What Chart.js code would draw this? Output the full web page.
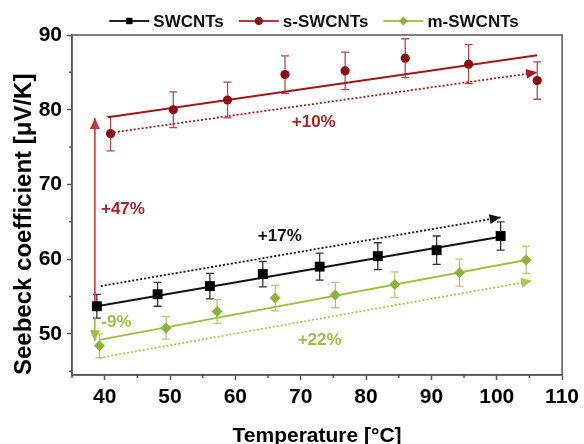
<!DOCTYPE html>
<html>
<head>
<meta charset="utf-8">
<script src="https://cdn.jsdelivr.net/npm/chart.js@4.4.0/dist/chart.umd.min.js"></script>
<style>
  body { margin: 0; background: #fff; }
  #wrap { width: 584px; height: 444px; }
</style>
</head>
<body>
<div id="wrap"><canvas id="seebeck" width="584" height="444"></canvas></div>
<script>
// measured Seebeck coefficient (µV/K) vs temperature (°C), with error bars
const tempSW = [38.8, 48.1, 56.1, 64.2, 72.9, 81.8, 90.8, 100.6];
const seebeckSW = [53.7, 55.3, 56.4, 58.0, 59.0, 60.4, 61.2, 63.1];
const errSW = [1.6, 1.6, 1.7, 1.7, 1.8, 1.8, 1.9, 1.9];

const tempS = [40.9, 50.5, 58.8, 67.6, 76.8, 86.0, 95.7, 106.2];
const seebeckS = [76.8, 80.0, 81.3, 84.7, 85.2, 86.9, 86.1, 83.9];
const errS = [2.3, 2.4, 2.4, 2.5, 2.5, 2.6, 2.6, 2.5];

const tempM = [39.2, 49.4, 57.2, 66.1, 75.3, 84.4, 94.3, 104.5];
const seebeckM = [48.4, 50.8, 53.0, 54.8, 55.2, 56.6, 58.2, 59.9];
const errM = [1.6, 1.5, 1.6, 1.7, 1.7, 1.7, 1.8, 1.8];

// linear fits (start / end)
const fitSW = [[38.8, 53.7], [100.6, 63.0]];
const fitS = [[40.5, 79.0], [106.2, 87.3]];
const fitM = [[39.2, 49.2], [104.5, 59.9]];

// dotted guide arrows, last point is the arrow tip
const guideSW = [[39.4, 56.4], [100.6, 65.6]];
const guideS = [[40.8, 76.9], [106.2, 85.0]];
const guideM = [[39.2, 46.8], [105.4, 57.1]];

// vertical arrows at the first temperature
const jumpS = [[38.5, 53.7], [38.5, 78.9]];
const dropM = [[38.5, 52.2], [38.5, 49.0]];

// percentage notes
const noteText = ['+47%', '+10%', '+17%', '-9%', '+22%'];
const noteTemp = [42.8, 72.0, 66.8, 41.8, 72.9];
const noteValue = [66.7, 78.3, 63.1, 51.6, 49.1];

const xTicks = [40, 50, 60, 70, 80, 90, 100, 110];
const yTicks = [50, 60, 70, 80, 90];

const FONT = "'Liberation Sans', Arial, sans-serif";
const RED = '#8e0d10', GREEN = '#8cb338';
const noteColors = ['#a8242a', '#a8242a', '#111', '#9bbf3e', '#9bbf3e'];

const pts = (xs, ys) => xs.map((x, i) => ({ x, y: ys[i] }));
const seg = arr => arr.map(([x, y]) => ({ x, y }));

function lineSet(data, color, width, dash, arrow) {
  return {
    data: seg(data), showLine: true, borderColor: color, backgroundColor: color,
    borderWidth: width, borderDash: dash || [], pointRadius: 0, arrowHead: arrow,
    inLegend: false
  };
}

const errorBars = {
  id: 'errorBars',
  beforeDatasetsDraw(chart) {
    const { ctx, scales: { x, y } } = chart;
    chart.data.datasets.forEach(ds => {
      if (!ds.errors) return;
      ctx.save();
      ctx.strokeStyle = ds.errorColor;
      ctx.lineWidth = 1.3;
      ds.data.forEach((p, j) => {
        const px = x.getPixelForValue(p.x);
        const top = y.getPixelForValue(p.y + ds.errors[j]);
        const bot = y.getPixelForValue(p.y - ds.errors[j]);
        ctx.beginPath();
        ctx.moveTo(px, top); ctx.lineTo(px, bot);
        ctx.moveTo(px - 4, top); ctx.lineTo(px + 4, top);
        ctx.moveTo(px - 4, bot); ctx.lineTo(px + 4, bot);
        ctx.stroke();
      });
      ctx.restore();
    });
  }
};

const arrowHeads = {
  id: 'arrowHeads',
  afterDatasetsDraw(chart) {
    const ctx = chart.ctx;
    chart.data.datasets.forEach((ds, i) => {
      if (!ds.arrowHead) return;
      const els = chart.getDatasetMeta(i).data;
      const a = els[els.length - 2], b = els[els.length - 1];
      const ang = Math.atan2(b.y - a.y, b.x - a.x);
      const len = 11, half = 5;
      ctx.save();
      ctx.translate(b.x, b.y);
      ctx.rotate(ang);
      ctx.fillStyle = ds.borderColor;
      ctx.beginPath();
      ctx.moveTo(0, 0);
      ctx.lineTo(-len, -half);
      ctx.lineTo(-len, half);
      ctx.closePath();
      ctx.fill();
      ctx.restore();
    });
  }
};

const notes = {
  id: 'notes',
  afterDatasetsDraw(chart) {
    const { ctx, scales: { x, y } } = chart;
    ctx.save();
    ctx.font = 'bold 17px ' + FONT;
    ctx.textAlign = 'center';
    ctx.textBaseline = 'middle';
    noteText.forEach((t, i) => {
      ctx.fillStyle = noteColors[i];
      ctx.fillText(t, x.getPixelForValue(noteTemp[i]), y.getPixelForValue(noteValue[i]));
    });
    ctx.restore();
  }
};

function drawMarker(ctx, style, cx, cy, r, color) {
  ctx.fillStyle = color;
  ctx.beginPath();
  if (style === 'rect') ctx.rect(cx - r, cy - r, 2 * r, 2 * r);
  else if (style === 'rectRot') {
    ctx.moveTo(cx, cy - r); ctx.lineTo(cx + r, cy); ctx.lineTo(cx, cy + r); ctx.lineTo(cx - r, cy);
    ctx.closePath();
  } else ctx.arc(cx, cy, r, 0, Math.PI * 2);
  ctx.fill();
}

const frameAndLegend = {
  id: 'frameAndLegend',
  afterDraw(chart) {
    const { ctx, chartArea: ca, scales: { x, y } } = chart;
    ctx.save();
    // box around the plot
    ctx.strokeStyle = '#555';
    ctx.lineWidth = 1.5;
    ctx.strokeRect(ca.left, ca.top, ca.right - ca.left, ca.bottom - ca.top);
    // minor ticks halfway between labelled ticks
    ctx.beginPath();
    for (let v = xTicks[0] - 5; v <= x.max; v += 10) {
      if (v < x.min) continue;
      const px = x.getPixelForValue(v);
      ctx.moveTo(px, ca.bottom); ctx.lineTo(px, ca.bottom + 3);
    }
    for (let v = yTicks[0] - 5; v <= y.max; v += 10) {
      if (v < y.min) continue;
      const py = y.getPixelForValue(v);
      ctx.moveTo(ca.left, py); ctx.lineTo(ca.left - 3, py);
    }
    ctx.stroke();

    // legend: line + marker + label
    const items = chart.data.datasets.filter(d => d.inLegend);
    ctx.font = 'bold 17px ' + FONT;
    ctx.textBaseline = 'middle';
    ctx.textAlign = 'left';
    const lineW = 40, gap = 4, space = 15;
    const widths = items.map(d => lineW + gap + ctx.measureText(d.label).width);
    const total = widths.reduce((s, w) => s + w, 0) + space * (items.length - 1);
    let lx = (ca.left + ca.right) / 2 - total / 2 - 3;
    const ly = 21;
    items.forEach((d, i) => {
      ctx.strokeStyle = d.legendLine;
      ctx.lineWidth = 2;
      ctx.beginPath();
      ctx.moveTo(lx, ly); ctx.lineTo(lx + lineW, ly);
      ctx.stroke();
      drawMarker(ctx, d.pointStyle, lx + lineW / 2, ly, d.legendSize, d.backgroundColor);
      ctx.fillStyle = '#111';
      ctx.fillText(d.label, lx + lineW + gap, ly + 1);
      lx += widths[i] + space;
    });
    ctx.restore();
  }
};

new Chart(document.getElementById('seebeck'), {
  type: 'scatter',
  data: {
    datasets: [
      {
        label: 'SWCNTs', data: pts(tempSW, seebeckSW), errors: errSW, errorColor: '#333',
        pointStyle: 'rect', pointRadius: 7, backgroundColor: '#000', borderColor: '#000', borderWidth: 0,
        inLegend: true, legendLine: '#222', legendSize: 3.2
      },
      {
        label: 's-SWCNTs', data: pts(tempS, seebeckS), errors: errS, errorColor: '#b44a4c',
        pointStyle: 'circle', pointRadius: 4.6, backgroundColor: RED, borderColor: RED, borderWidth: 0,
        inLegend: true, legendLine: '#b8393c', legendSize: 4
      },
      {
        label: 'm-SWCNTs', data: pts(tempM, seebeckM), errors: errM, errorColor: '#b2cc6a',
        pointStyle: 'rectRot', pointRadius: 5.5, backgroundColor: GREEN, borderColor: GREEN, borderWidth: 0,
        inLegend: true, legendLine: '#a6c650', legendSize: 4.5
      },
      lineSet(fitSW, '#111', 2),
      lineSet(fitS, '#a3161a', 2),
      lineSet(fitM, '#9dc03f', 2),
      lineSet(guideSW, '#111', 1.8, [2, 2], true),
      lineSet(guideS, '#a81c20', 1.8, [2, 2], true),
      lineSet(guideM, '#a9c852', 1.8, [2, 2], true),
      lineSet(jumpS, '#c0393d', 1.6, [], true),
      lineSet(dropM, '#9dc03f', 1.6, [], true)
    ]
  },
  options: {
    responsive: false,
    animation: false,
    events: [],
    layout: { padding: { top: 35, right: 19, bottom: 0, left: 0 } },
    plugins: { legend: { display: false }, tooltip: { enabled: false } },
    scales: {
      x: {
        type: 'linear', min: 35, max: 110, bounds: 'data',
        afterBuildTicks: s => { s.ticks = xTicks.map(v => ({ value: v })); },
        afterFit: s => { s.height = 69; },
        ticks: { autoSkip: false, maxRotation: 0, padding: 5, color: '#000',
                 font: { family: FONT, size: 21, weight: 'bold' } },
        grid: { drawOnChartArea: false, tickLength: 5, tickColor: '#555', tickWidth: 1.5 },
        border: { color: '#555', width: 1.5 },
        title: { display: true, text: 'Temperature [°C]', color: '#000',
                 font: { family: FONT, size: 21, weight: 'bold', lineHeight: 1 },
                 padding: { top: 0, bottom: -3 } }
      },
      y: {
        type: 'linear', min: 44.5, max: 90, bounds: 'data',
        afterBuildTicks: s => { s.ticks = yTicks.map(v => ({ value: v })); },
        afterFit: s => { s.width = 72; },
        ticks: { autoSkip: false, padding: 5, color: '#000',
                 font: { family: FONT, size: 21, weight: 'bold' } },
        grid: { drawOnChartArea: false, tickLength: 5, tickColor: '#555', tickWidth: 1.5 },
        border: { color: '#555', width: 1.5 },
        title: { display: true, text: 'Seebeck coefficient [μV/K]', align: 'start', color: '#000',
                 font: { family: FONT, size: 24, weight: 'bold', lineHeight: 1 },
                 padding: { top: 12, bottom: 0 } }
      }
    }
  },
  plugins: [errorBars, arrowHeads, notes, frameAndLegend]
});
</script>
</body>
</html>
